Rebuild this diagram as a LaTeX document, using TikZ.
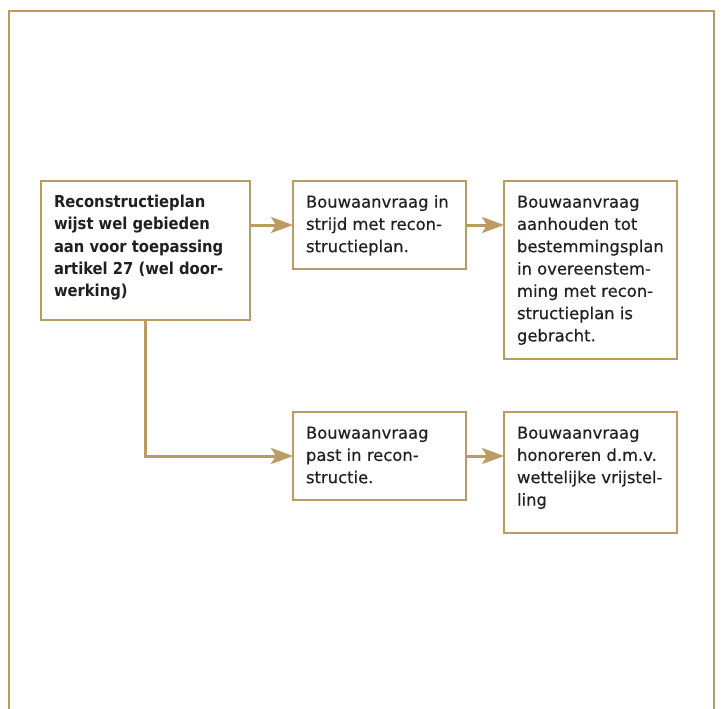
\documentclass[tikz,border=0pt]{standalone}
\usepackage{fontspec}
\setmainfont{DejaVu Sans}[FakeBold=0.35]
\newfontfamily\medfont{DejaVu Sans Condensed}
\usepackage{tikz}
\usetikzlibrary{positioning, arrows.meta}
\definecolor{gold}{RGB}{186,156,98}
\definecolor{ink}{RGB}{35,31,32}
\newcommand{\boxtxt}[3]{\parbox[t][#2][t]{#1}{\raggedright\strut#3}}

\begin{document}
\begin{tikzpicture}[x=1pt, y=-1pt,
    stap/.style={draw=gold, line width=1.4pt, fill=white, outer sep=0pt, inner xsep=13pt, inner ysep=11pt, text=ink, font=\fontsize{16.4}{22.3}\selectfont},
    pijl/.style={draw=gold, line width=3pt, -{Stealth[length=22pt, width=16pt, inset=5pt]}}]
        \useasboundingbox (0,0) rectangle (723,709);
        % Frame
        \draw[gold, line width=2.2pt] (9,709) -- (9,11) -- (714,11) -- (714,709);

        % Nodes
        \node (plan) [stap, anchor=north west] at (41,181) {\boxtxt{183pt}{117pt}{\medfont\bfseries Reconstructieplan\\ wijst wel gebieden\\ aan voor toepassing\\ artikel 27 (wel door-\\ werking)}};
        \node (strijd) [stap, right=43pt of plan.north east, anchor=north west] {\boxtxt{147pt}{66pt}{Bouwaanvraag in\\ strijd met recon-\\ structieplan.}};
        \node (aanhouden) [stap, right=38pt of strijd.north east, anchor=north west] {\boxtxt{147pt}{156pt}{Bouwaanvraag\\ aanhouden tot\\ bestemmingsplan\\ in overeenstem-\\ ming met recon-\\ structieplan is\\ gebracht.}};
        \node (past) [stap, below=143pt of strijd.south west, anchor=north west] {\boxtxt{147pt}{66pt}{Bouwaanvraag\\ past in recon-\\ structie.}};
        \node (honoreren) [stap, right=38pt of past.north east, anchor=north west] {\boxtxt{147pt}{99pt}{Bouwaanvraag\\ honoreren d.m.v.\\ wettelijke vrijstel-\\ ling}};

        % Arrows
        \draw[pijl] (plan.east |- strijd.west) -- (strijd.west);
        \draw[pijl] (strijd.east) -- (aanhouden.west |- strijd.east);
        \draw[pijl] (plan.south) |- (past.west);
        \draw[pijl] (past.east) -- (honoreren.west |- past.east);
    \end{tikzpicture}
\end{document}
